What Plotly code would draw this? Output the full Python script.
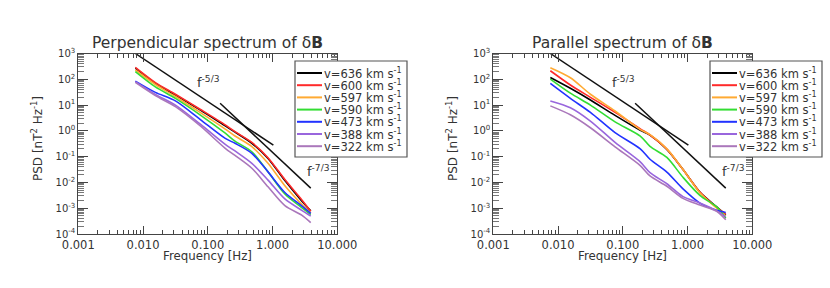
import plotly.graph_objects as go

# ---------------- data ----------------
freq = [0.0076, 0.0155, 0.0316, 0.0759, 0.186, 0.263, 0.479, 0.851, 1.55, 2.82, 3.89]

speeds = ["636", "600", "597", "590", "473", "388", "322"]
colors = ["#000000", "#ff2a2a", "#ffaa33", "#33dd33", "#2233ff", "#9966dd", "#aa77bb"]

# Perpendicular spectrum
perp_636 = [269, 69, 24.5, 6.5, 1.55, 0.89, 0.33, 0.0851, 0.01175, 0.00191, 0.00079]
perp_600 = [288, 74, 26.3, 6.9, 1.70, 0.93, 0.355, 0.0912, 0.0129, 0.00214, 0.00076]
perp_597 = [229, 63, 21.4, 5.2, 1.17, 0.63, 0.245, 0.0550, 0.00741, 0.00141, 0.00063]
perp_590 = [200, 51, 18.2, 4.2, 0.81, 0.40, 0.155, 0.0257, 0.00355, 0.00105, 0.00056]
perp_473 = [85, 31, 14.5, 2.8, 0.51, 0.33, 0.135, 0.0257, 0.00407, 0.00123, 0.00063]
perp_388 = [81, 26, 10.0, 1.86, 0.30, 0.166, 0.055, 0.0123, 0.00229, 0.00083, 0.00050]
perp_322 = [76, 23.4, 8.7, 1.58, 0.21, 0.112, 0.0355, 0.00676, 0.00126, 0.000537, 0.000275]

# Parallel spectrum
par_636 = [117, 44.7, 15.8, 3.98, 1.05, 0.68, 0.190, 0.0316, 0.0042, 0.00112, 0.00055]
par_600 = [214, 60, 20.0, 5.2, 1.20, 0.69, 0.195, 0.0316, 0.0042, 0.00107, 0.00060]
par_597 = [282, 115, 26.3, 5.9, 1.12, 0.71, 0.200, 0.0316, 0.0040, 0.00100, 0.00050]
par_590 = [102, 29, 10.0, 2.24, 0.63, 0.25, 0.093, 0.0158, 0.00316, 0.00112, 0.00041]
par_473 = [69, 18.2, 5.2, 0.85, 0.20, 0.079, 0.025, 0.0056, 0.00158, 0.00083, 0.00068]
par_388 = [14.5, 7.9, 2.4, 0.355, 0.063, 0.024, 0.0089, 0.0028, 0.00158, 0.00079, 0.00047]
par_322 = [9.3, 4.2, 1.32, 0.24, 0.045, 0.0178, 0.0071, 0.0024, 0.00132, 0.00076, 0.000355]

perp_series = [perp_636, perp_600, perp_597, perp_590, perp_473, perp_388, perp_322]
par_series = [par_636, par_600, par_597, par_590, par_473, par_388, par_322]

# reference power-law guide lines
guide53_f = [0.0076, 1.03]
guide53_psd = [1000, 0.28]
guide73_f = [0.155, 3.89]
guide73_psd = [11.7, 0.0060]

titles = ["Perpendicular spectrum of δ<b>B</b>", "Parallel spectrum of δ<b>B</b>"]
x_ticks = [0.001, 0.01, 0.1, 1, 10]
x_ticktext = ["0.001", "0.010", "0.100", "1.000", "10.000"]
y_ticks = [1e-4, 1e-3, 1e-2, 1e-1, 1, 10, 100, 1000]
y_ticktext = ["10<sup>-4</sup>", "10<sup>-3</sup>", "10<sup>-2</sup>", "10<sup>-1</sup>",
              "10<sup>0</sup>", "10<sup>1</sup>", "10<sup>2</sup>", "10<sup>3</sup>"]

# ---------------- figure ----------------
W, H = 830, 288
def px(x):
    return x / W
def py(y):
    return 1 - y / H

TXT = "#333333"
AX = "#444444"
FONT = "DejaVu Sans"

x_minor = [m * 10 ** e for e in range(-3, 1) for m in range(2, 10)]
y_minor = [m * 10 ** e for e in range(-4, 3) for m in range(2, 10)]

fig = go.Figure()
shapes = []
annotations = []

for p, (series, offset) in enumerate([(perp_series, 0), (par_series, 415)]):
    xa = "x" if p == 0 else "x2"
    ya = "y" if p == 0 else "y2"
    for name, col, vals in zip(speeds, colors, series):
        fig.add_trace(go.Scatter(x=freq, y=vals, mode="lines", xaxis=xa, yaxis=ya,
                                 line=dict(color=col, width=1.6, shape="spline", smoothing=0.8),
                                 showlegend=False, hoverinfo="skip"))
    for gx, gy in [(guide53_f, guide53_psd), (guide73_f, guide73_psd)]:
        fig.add_trace(go.Scatter(x=gx, y=gy, mode="lines", xaxis=xa, yaxis=ya,
                                 line=dict(color="#111111", width=1.5),
                                 showlegend=False, hoverinfo="skip"))

    dom_x = [px(78.3 + offset), px(337.3 + offset)]
    axis_x = dict(type="log", range=[-3, 1], domain=dom_x, anchor=ya, automargin=False,
                  showline=True, linecolor=AX, linewidth=1, mirror="allticks",
                  ticks="inside", ticklen=8, tickcolor=AX,
                  tickmode="array", tickvals=x_ticks, ticktext=x_ticktext,
                  tickfont=dict(family=FONT, size=11.5, color=TXT),
                  minor=dict(ticks="inside", ticklen=4, tickcolor=AX,
                             tickmode="array", tickvals=x_minor, showgrid=False),
                  showgrid=False, zeroline=False)
    axis_y = dict(type="log", range=[-4, 3], domain=[py(234), py(53.5)], anchor=xa, automargin=False,
                  showline=True, linecolor=AX, linewidth=1, mirror="allticks",
                  ticks="inside", ticklen=10, tickcolor=AX,
                  tickmode="array", tickvals=y_ticks, ticktext=y_ticktext,
                  tickfont=dict(family=FONT, size=10, color=TXT),
                  minor=dict(ticks="inside", ticklen=6, tickcolor="#777777",
                             tickmode="array", tickvals=y_minor, showgrid=False),
                  showgrid=False, zeroline=False)
    if p == 0:
        fig.update_layout(xaxis=axis_x, yaxis=axis_y)
    else:
        fig.update_layout(xaxis2=axis_x, yaxis2=axis_y)

    cx = 207.8 + offset
    annotations.append(dict(text=titles[p], x=px(cx), y=py(43), xref="paper", yref="paper",
                            showarrow=False, xanchor="center", yanchor="middle",
                            font=dict(family=FONT, size=15.5, color=TXT)))
    annotations.append(dict(text="Frequency [Hz]", x=px(cx), y=py(255.5), xref="paper", yref="paper",
                            showarrow=False, xanchor="center", yanchor="middle",
                            font=dict(family=FONT, size=11.8, color=TXT)))
    annotations.append(dict(text="PSD [nT<sup>2</sup> Hz<sup>-1</sup>]", x=px(37 + offset), y=py(139),
                            xref="paper", yref="paper", showarrow=False, textangle=-90,
                            xanchor="center", yanchor="middle",
                            font=dict(family=FONT, size=12, color=TXT)))
    annotations.append(dict(text="f<sup>-5/3</sup>", x=px(195 + offset), y=py(82), xref="paper", yref="paper",
                            showarrow=False, xanchor="left", yanchor="middle",
                            font=dict(family=FONT, size=13, color=TXT)))
    annotations.append(dict(text="f<sup>-7/3</sup>", x=px(305 + offset), y=py(171), xref="paper", yref="paper",
                            showarrow=False, xanchor="left", yanchor="middle",
                            font=dict(family=FONT, size=13, color=TXT)))

    # legend box (drawn to match the compact reference layout)
    shapes.append(dict(type="rect", xref="paper", yref="paper", layer="above",
                       x0=px(295 + offset), x1=px(407 + offset), y0=py(157), y1=py(61),
                       line=dict(color="#555555", width=1.2), fillcolor="white"))
    for i, (name, col) in enumerate(zip(speeds, colors)):
        yy = 73 + i * 12.2
        shapes.append(dict(type="line", xref="paper", yref="paper", layer="above",
                           x0=px(297 + offset), x1=px(322 + offset), y0=py(yy), y1=py(yy),
                           line=dict(color=col, width=2)))
        annotations.append(dict(text="v=" + name + " km s<sup>-1</sup>", x=px(322 + offset), y=py(yy),
                                xref="paper", yref="paper", showarrow=False,
                                xanchor="left", yanchor="middle",
                                font=dict(family=FONT, size=11.5, color=TXT)))

fig.update_layout(width=W, height=H, margin=dict(l=0, r=0, t=0, b=0, autoexpand=False),
                  paper_bgcolor="white", plot_bgcolor="white",
                  shapes=shapes, annotations=annotations, showlegend=False)

fig.write_html("out.html", config={"displayModeBar": False},
               post_script="document.body.style.margin='0px';document.body.style.overflow='hidden';")
